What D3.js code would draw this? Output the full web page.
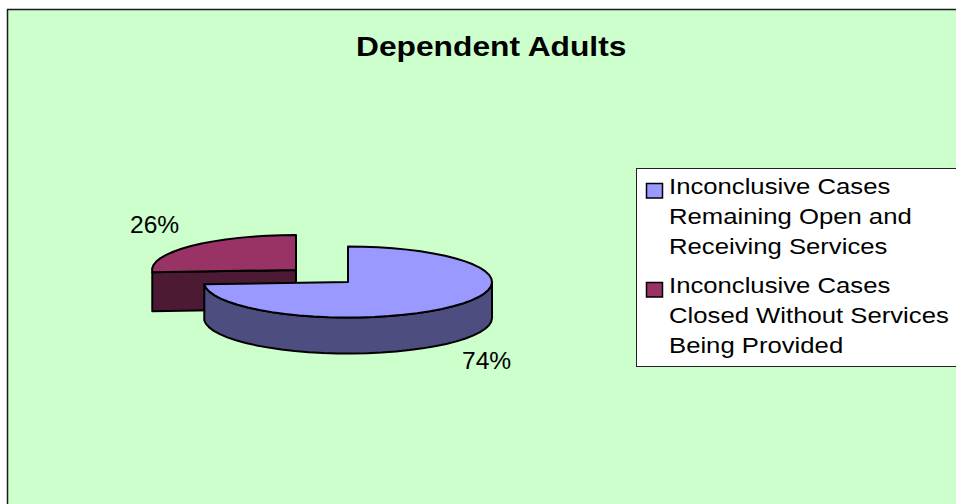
<!DOCTYPE html>
<html><head><meta charset="utf-8">
<script src="https://cdn.jsdelivr.net/npm/d3@7"></script>
<style>html,body{margin:0;padding:0;background:#fff}svg{display:block}text{font-family:"Liberation Sans",Arial,sans-serif;fill:#000}</style>
</head><body><svg id="c" width="956" height="504"></svg>
<script>
const title = "Dependent Adults";
const categories = ["Inconclusive Cases Remaining Open and Receiving Services", "Inconclusive Cases Closed Without Services Being Provided"];
const legendLines = [["Inconclusive Cases","Remaining Open and","Receiving Services"],["Inconclusive Cases","Closed Without Services","Being Provided"]];
const values = [74, 26];
const labels = ["74%", "26%"];
const topColors = ["#9999FF", "#993366"];
const sideColors = ["#4D4D80", "#4D1A33"];

const svg = d3.select("#c");
const put = (x,y,size,stretch,t,weight)=>svg.append("text")
  .attr("transform",`translate(${x},${y}) scale(${stretch},1)`)
  .attr("font-size",size).attr("font-weight",weight||"normal").text(t);

svg.append("rect").attr("x",7.5).attr("y",9.5).attr("width",960).attr("height",510)
  .attr("fill","#CCFFCC").attr("stroke","#1a1a1a").attr("stroke-width",1.5);
put(356,55.5,27.5,1.155,title,"bold");

const arcs = d3.pie().sort(null)(values);
const geom = [{cx:348,cy:282,rx:144,ry:35.5,d:36},{cx:296,cy:270,rx:144,ry:35,d:39}];
const line = d3.line();
const pt = (g,a,dy=0)=>[g.cx+g.rx*Math.sin(a), g.cy-g.ry*Math.cos(a)+dy];
const samples = (a0,a1,n)=>d3.range(0,n+1).map(i=>a0+(a1-a0)*i/n);
const style = sel=>sel.attr("stroke","#000").attr("stroke-width",2).attr("stroke-linejoin","round");

// draw back slice first
[1,0].forEach(i=>{
  const g=geom[i], s=arcs[i], a0=s.startAngle, a1=s.endAngle;
  const c=[g.cx,g.cy];
  if(i===1){
    const p0=pt(g,a0), q0=pt(g,a0,g.d);
    const cb=[g.cx,g.cy+g.d];
    svg.append("path").attr("d",line([p0,c,cb,q0])+"Z").attr("fill",sideColors[i]).call(style);
  } else {
    const pts=samples(Math.PI/2,a1,30);
    const wall=pts.map(a=>pt(g,a)).concat(pts.slice().reverse().map(a=>pt(g,a,g.d)));
    svg.append("path").attr("d",line(wall)+"Z").attr("fill",sideColors[i]).call(style);
  }
  const top=[c].concat(samples(a0,a1,i===0?44:16).map(a=>pt(g,a)));
  svg.append("path").attr("d",line(top)+"Z").attr("fill",topColors[i]).call(style);
});

// data labels
put(462,369,23,1.07,labels[0]);
put(130,233,23,1.07,labels[1]);

// legend
svg.append("rect").attr("x",636.5).attr("y",168.5).attr("width",340).attr("height",198)
  .attr("fill","#fff").attr("stroke","#222").attr("stroke-width",1);
const legendTop=[193.5,292.5];
categories.forEach((c,i)=>{
  svg.append("rect").attr("x",646.5).attr("y",legendTop[i]-10).attr("width",16).attr("height",14.5)
    .attr("fill",topColors[i]).attr("stroke","#000").attr("stroke-width",1.5);
  legendLines[i].forEach((t,j)=>put(669,legendTop[i]+j*30,22,1.168,t));
});
</script></body></html>
